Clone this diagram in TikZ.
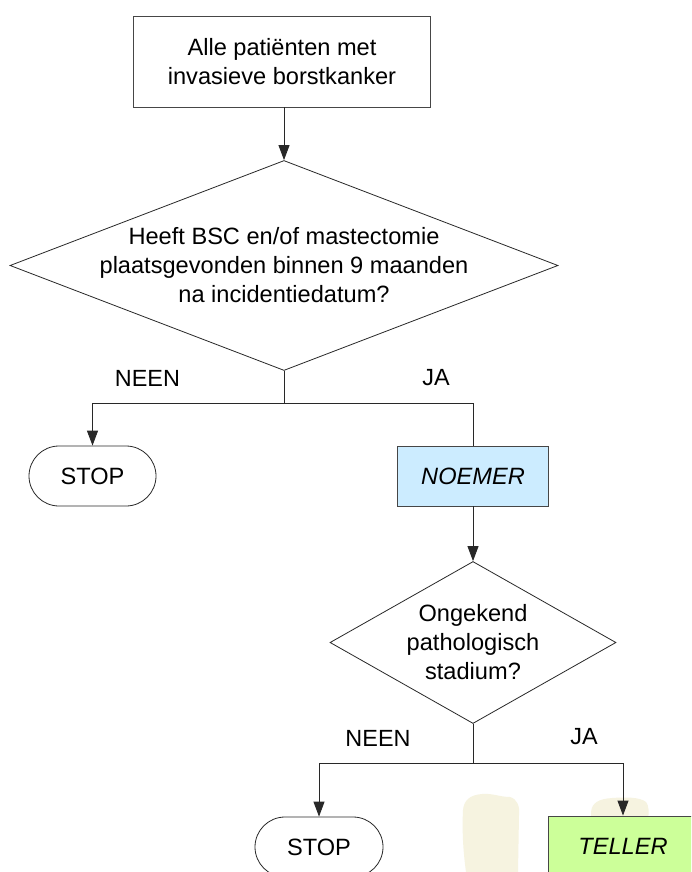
\documentclass[tikz,border=0pt]{standalone}
\usepackage{fontspec}
\setmainfont{Liberation Sans}
\usetikzlibrary{shapes.geometric,shapes.misc,arrows.meta}
\definecolor{lineclr}{RGB}{40,40,40}
\definecolor{boxclr}{RGB}{70,70,70}
\definecolor{noemerfill}{RGB}{204,236,255}
\definecolor{tellerfill}{RGB}{204,255,153}
\definecolor{blobclr}{RGB}{246,243,224}
\tikzset{
  txt/.style={font=\fontsize{23.6}{29}\selectfont, align=center},
  boxnode/.style={txt, draw=boxclr, line width=0.9pt, rectangle, inner sep=0pt},
  decnode/.style={draw=lineclr, line width=0.8pt, diamond, inner sep=0pt},
  termnode/.style={txt, draw=lineclr, line width=0.8pt, rounded rectangle, inner sep=0pt,
                   minimum width=127pt, minimum height=60pt},
  conn/.style={draw=lineclr, line width=0.9pt},
  arr/.style={conn, -{Triangle[length=15pt,width=11pt]}},
  lbl/.style={font=\fontsize{23.4}{29}\selectfont, inner sep=0pt},
}
\begin{document}
\begin{tikzpicture}[x=1pt,y=-1pt]
\useasboundingbox (0,0) rectangle (691,872);
\clip (0,0) rectangle (691,872);
\fill[white] (0,0) rectangle (691,872);
% faint background marks
\fill[blobclr] (463,810) .. controls (464,800) and (470,795) .. (482,794)
  .. controls (492,793) and (500,797) .. (510,797)
  .. controls (517,799) and (520,806) .. (519,815)
  -- (518,872) -- (466,872) .. controls (463,850) and (462,830) .. (463,810) -- cycle;
\fill[blobclr] (591,812) .. controls (592,803) and (598,799) .. (612,798)
  .. controls (625,797) and (640,797) .. (646,802)
  .. controls (649,806) and (649,812) .. (648,820) -- (591,820) -- cycle;

\node[boxnode, minimum width=297pt, minimum height=91pt] (top) at (282,61.5)
  {Alle patiënten met\\invasieve borstkanker};
\node[decnode, minimum width=548pt, minimum height=210pt] (d1) at (284,265.5) {};
\node[txt, inner sep=0pt] (d1t) at (d1.center)
  {Heeft BSC en/of mastectomie\\plaatsgevonden binnen 9 maanden\\na incidentiedatum?};
\node[termnode] (stop1) at (92.5,476) {STOP};
\node[boxnode, fill=noemerfill, minimum width=151pt, minimum height=60pt] (noemer) at (473,476)
  {\itshape NOEMER};
\node[decnode, minimum width=286pt, minimum height=162pt] (d2) at (473,642.5) {};
\node[txt, inner sep=0pt] (d2t) at (d2.center) {Ongekend\\pathologisch\\stadium?};
\node[termnode, minimum width=128pt] (stop2) at (319,847) {STOP};
\node[boxnode, fill=tellerfill, minimum width=150pt, minimum height=60pt] (teller) at (623,846)
  {\itshape TELLER};

\node[lbl] (neen1) at (147.5,378) {NEEN};
\node[lbl] (ja1) at (436,378) {JA};
\node[lbl] (neen2) at (378,738) {NEEN};
\node[lbl] (ja2) at (584,737) {JA};

\coordinate (j1) at (284,403);
\coordinate (j2) at (473,763);

\draw[arr] (d1.north |- top.south) -- (d1.north);
\draw[conn] (d1.south) -- (j1);
\draw[arr] (j1) -| (stop1.north);
\draw[conn] (j1) -| (noemer.north);
\draw[arr] (noemer.south) -- (d2.north);
\draw[conn] (d2.south) -- (j2);
\draw[arr] (j2) -| (stop2.north);
\draw[arr] (j2) -| (teller.north);
\end{tikzpicture}
\end{document}
